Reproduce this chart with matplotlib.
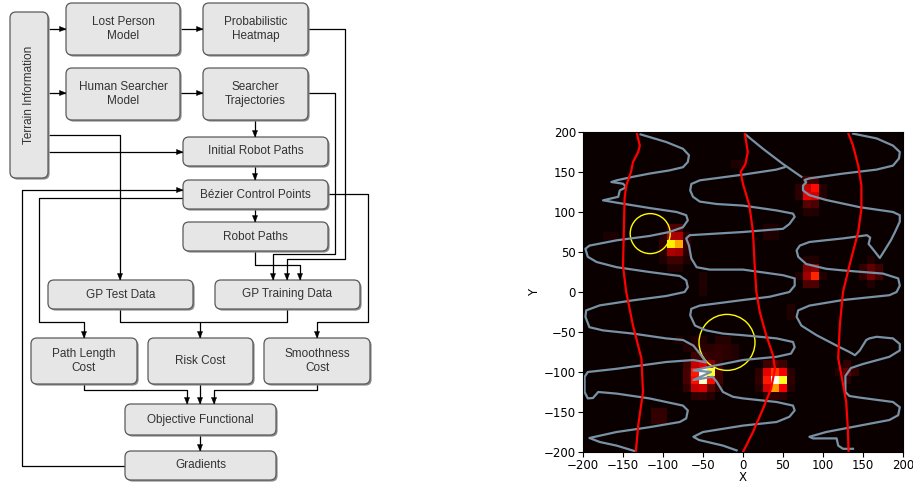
import numpy as np
import matplotlib
matplotlib.use("Agg")
import matplotlib.pyplot as plt
from matplotlib.patches import FancyBboxPatch, Polygon, Circle

# ---- flowchart content ----
box_labels = [
    "Terrain Information", "Lost Person\nModel", "Probabilistic\nHeatmap",
    "Human Searcher\nModel", "Searcher\nTrajectories", "Initial Robot Paths",
    "Bézier Control Points", "Robot Paths", "GP Test Data", "GP Training Data",
    "Path Length\nCost", "Risk Cost", "Smoothness\nCost",
    "Objective Functional", "Gradients",
]

# ---- heatmap content ----
grid_x = np.arange(-200, 201, 10)
grid_y = np.arange(-200, 201, 10)
background = 0.0
# (x centre, y centre, intensity)
hotspots = [
    (-90, 80, 0.10), (-80, 80, 0.10), (-90, 70, 0.24), (-80, 70, 0.24),
    (-90, 60, 0.72), (-80, 60, 0.62), (-90, 50, 0.24), (-80, 50, 0.22),
    (-90, 40, 0.08), (-80, 40, 0.08), (-100, 70, 0.04), (-100, 60, 0.055),
    (-100, 50, 0.04), (-70, 70, 0.05), (-70, 60, 0.06), (-70, 50, 0.05),
    (-100, 40, 0.03), (-70, 40, 0.03), (-90, 30, 0.035), (-80, 30, 0.035),
    (-60, -90, 0.28), (-50, -90, 0.33), (-40, -90, 0.18),
    (-60, -100, 0.40), (-50, -100, 1.00), (-40, -100, 0.80),
    (-60, -110, 0.38), (-50, -110, 0.95), (-40, -110, 0.38),
    (-60, -120, 0.28), (-50, -120, 0.30), (-40, -120, 0.12),
    (-70, -90, 0.08), (-70, -100, 0.09), (-70, -110, 0.09), (-70, -120, 0.06),
    (-30, -90, 0.06), (-30, -100, 0.08), (-30, -110, 0.08), (-30, -120, 0.05),
    (-60, -80, 0.08), (-50, -80, 0.08), (-40, -80, 0.06),
    (-60, -130, 0.055), (-50, -130, 0.06), (-40, -130, 0.04),
    (-40, -70, 0.05), (-30, -70, 0.06), (-20, -70, 0.05), (-30, -60, 0.04),
    (-20, -60, 0.04), (-10, -70, 0.035), (-20, -80, 0.05), (-10, -80, 0.035),
    (-30, -80, 0.06), (-70, -70, 0.035), (-60, -70, 0.04), (-60, -60, 0.035),
    (-50, -70, 0.05), (-50, -60, 0.035),
    (30, -90, 0.08), (40, -90, 0.10), (50, -90, 0.08),
    (30, -100, 0.33), (40, -100, 0.45), (50, -100, 0.35),
    (30, -110, 0.40), (40, -110, 1.00), (50, -110, 0.78),
    (30, -120, 0.30), (40, -120, 0.60), (50, -120, 0.35),
    (30, -130, 0.05), (40, -130, 0.06), (50, -130, 0.05),
    (20, -100, 0.05), (20, -110, 0.06), (20, -120, 0.04),
    (60, -100, 0.05), (60, -110, 0.055), (60, -120, 0.04),
    (80, 140, 0.08), (90, 140, 0.08), (80, 130, 0.28), (90, 130, 0.38),
    (80, 120, 0.33), (90, 120, 0.30), (80, 110, 0.12), (90, 110, 0.10),
    (80, 100, 0.04), (90, 100, 0.035), (70, 130, 0.05), (70, 120, 0.05),
    (100, 130, 0.04), (100, 120, 0.04),
    (80, 30, 0.18), (90, 30, 0.20), (80, 20, 0.22), (90, 20, 0.42),
    (80, 10, 0.10), (90, 10, 0.10), (70, 20, 0.035), (100, 20, 0.035),
    (80, 40, 0.035), (90, 40, 0.035),
    (150, 30, 0.06), (160, 30, 0.13), (170, 30, 0.08),
    (150, 20, 0.06), (160, 20, 0.15), (170, 20, 0.08),
    (160, 40, 0.035), (160, 10, 0.035),
    (130, -90, 0.06), (130, -100, 0.13), (140, -100, 0.06),
    (130, -110, 0.05), (120, -100, 0.04),
    (-110, -150, 0.06), (-100, -150, 0.06), (-110, -160, 0.06), (-100, -160, 0.06),
    (-160, 70, 0.03), (-170, 70, 0.025), (0, 160, 0.035), (-10, 160, 0.03),
    (30, 80, 0.035), (30, 70, 0.035), (40, 80, 0.03), (40, 70, 0.03),
    (60, -20, 0.035), (60, -30, 0.03), (-50, 10, 0.035), (-50, 20, 0.03),
    (-50, 0, 0.03), (-80, -60, 0.03),
]

# red robot paths (x, y)
red_paths = [
    [(-133, 200), (-129, 183), (-131, 175), (-137.5, 162.5), (-140, 150),
     (-146, 133), (-148, 117), (-149, 75), (-150, 33), (-146, 0),
     (-137.5, -42), (-127, -83), (-125, -125), (-131, -167), (-134, -200)],
    [(2, 200), (6, 175), (3, 160), (-3, 150), (0, 135), (8, 108), (12.5, 75),
     (14.6, 33), (16.7, 0), (21, -25), (29, -54), (37.5, -79), (40, -96),
     (35, -121), (25, -146), (12.5, -175), (0, -200)],
    [(131, 200), (137.5, 183), (144, 158), (148, 133), (148, 104), (144, 75),
     (133, 33), (125, 0), (121, -42), (119, -83), (123, -104), (129, -137.5),
     (131, -170), (132, -200)],
]

# searcher trajectories (x, y)
searcher_paths = [
    [(-128, 197), (-96, 187.5), (-75, 179), (-67.5, 171), (-69, 162.5),
     (-75, 156), (-92, 152), (-117, 148), (-137.5, 144), (-158, 139.6),
     (-164.6, 137.5), (-150, 135.4), (-146, 131), (-154, 127), (-156, 119),
     (-175, 114.6), (-158, 111.7), (-117, 105), (-83, 100), (-71, 96),
     (-69, 89.6), (-75, 81), (-92, 75), (-117, 70), (-158, 64.6), (-192, 58),
     (-197, 54), (-194, 44), (-183, 37.5), (-158, 31), (-117, 25), (-79, 20),
     (-71, 14.6), (-69, 6), (-73, 0), (-96, -5), (-137.5, -10.4),
     (-179, -16.7), (-196, -23), (-197, -31), (-192, -44), (-175, -48),
     (-137.5, -52), (-96, -58), (-75, -60), (-62, -67), (-54, -77),
     (-46, -88), (-62, -85), (-96, -87.5), (-158, -96), (-194, -100),
     (-198, -106), (-198, -125), (-194, -133), (-187.5, -132.5),
     (-181, -125), (-158, -127), (-117, -133), (-75, -142), (-69, -148),
     (-71, -158), (-79, -162.5), (-117, -169), (-158, -175), (-192, -182.5),
     (-179, -187.5), (-158, -192), (-135, -199)],
    [(3, 197), (25, 179), (50, 160), (73, 144)],
    [(52, 156), (41.7, 153), (0, 146.7), (-54, 139.6), (-64.6, 135),
     (-66, 127), (-62.5, 119), (-54, 113), (-33, 110), (0, 108), (41.7, 102),
     (62.5, 98), (64.6, 94), (58, 85), (50, 79), (25, 77), (0, 75),
     (-66.7, 71), (-71, 67), (-67.5, 58), (-64.6, 42), (-58, 31),
     (-41.7, 28), (0, 28), (50, 21), (64.6, 17), (64.6, 8), (58, 0),
     (33, -6), (0, -10), (-54, -17), (-64.6, -21), (-66, -29), (-60, -42),
     (-46, -48), (-25, -52), (0, -54), (42, -58), (62.5, -62.5),
     (64.6, -69), (60, -77), (42, -81), (0, -85), (-35, -92), (-62, -98),
     (-40, -100), (-62, -110), (-38, -106), (-33, -112), (-25, -125),
     (-12.5, -131), (0, -133), (42, -137.5), (62.5, -142), (64.6, -148),
     (58, -156), (42, -162.5), (0, -167), (-50, -175), (-62, -181),
     (-55, -185), (-25, -192), (-8, -198)],
    [(137.5, 198), (167, 192), (187.5, 183), (196, 175), (195, 167),
     (187.5, 158), (167, 153), (125, 148), (83, 142), (77, 140), (79, 137),
     (75, 133), (75, 127), (83, 121), (104, 115), (146, 106), (187.5, 100),
     (196, 96), (196, 88), (190, 75), (185, 65), (177, 52), (171, 42.5),
     (162, 54), (157, 60), (159, 68), (155, 71), (125, 67), (83, 62.5),
     (71, 58), (67, 52), (69, 44), (79, 35), (104, 29), (125, 27), (175, 23),
     (194, 17), (196, 8), (192, 0), (183, -4), (125, -10), (83, -17),
     (69, -23), (67, -31), (73, -42), (92, -54), (117, -67), (133, -75),
     (140, -79), (146, -73), (154, -60), (158, -58), (167, -56),
     (187.5, -58), (196, -65), (196, -73), (183, -81), (150, -90),
     (135, -95), (128, -105), (128, -125), (133, -130), (146, -132),
     (187.5, -137.5), (196, -144), (194, -154), (183, -160), (146, -167),
     (104, -175), (83, -181), (87.5, -183), (117, -183), (119, -192),
     (125, -196), (137.5, -196)],
]

# target circles: centre x, centre y, radius
circle_x = [-116, -20]
circle_y = [73, -63]
circle_r = [25, 35]

# ---- layout (pixel coordinates of the 913x484 canvas) ----
box_xywh = [
    (10, 12, 38, 166), (66, 3, 114, 52), (203, 3, 105, 52),
    (66, 68, 114, 52), (203, 68, 105, 52), (183, 137, 145, 29),
    (183, 180, 145, 29), (183, 222, 145, 29), (48, 280, 145, 29),
    (215, 280, 145, 29), (31, 338, 106, 46), (148, 338, 105, 46),
    (264, 338, 106, 46), (125, 404, 151, 31), (125, 451, 151, 29),
]
# polylines; True means the last point carries an arrow head
connections = [
    ([(49, 29), (66, 29)], True),
    ([(181, 29), (203, 29)], True),
    ([(49, 93), (66, 93)], True),
    ([(180, 93), (203, 93)], True),
    ([(308, 29), (345, 29), (345, 259), (287, 259), (287, 280)], True),
    ([(308, 93), (335, 93), (335, 254), (273, 254), (273, 280)], True),
    ([(255, 251), (255, 265), (300, 265), (300, 280)], True),
    ([(255, 120), (255, 137)], True),
    ([(49, 152), (183, 152)], True),
    ([(49, 135), (120, 135), (120, 280)], True),
    ([(255, 166), (255, 180)], True),
    ([(255, 209), (255, 222)], True),
    ([(125, 466), (22, 466), (22, 190), (183, 190)], True),
    ([(183, 198), (39, 198), (39, 322), (84, 322), (84, 338)], True),
    ([(328, 194), (368, 194), (368, 322), (317, 322), (317, 338)], True),
    ([(120, 309), (120, 322), (287, 322), (287, 309)], False),
    ([(200, 322), (200, 338)], True),
    ([(84, 384), (84, 390), (187, 390), (187, 404)], True),
    ([(200, 384), (200, 404)], True),
    ([(317, 384), (317, 390), (214, 390), (214, 404)], True),
    ([(200, 435), (200, 451)], True),
]

W, H = 913, 484
fig = plt.figure(figsize=(W / 100, H / 100), dpi=100)

# flowchart on an axes in pixel units
ax0 = fig.add_axes([0, 0, 1, 1])
ax0.set_xlim(0, W)
ax0.set_ylim(H, 0)
ax0.axis("off")

for (x0, y0, w, h), label in zip(box_xywh, box_labels):
    shadow = FancyBboxPatch((x0 + 1.6, y0 + 1.6), w, h,
                            boxstyle="round,pad=0,rounding_size=6",
                            facecolor="#8c8c8c", edgecolor="none", zorder=2)
    box = FancyBboxPatch((x0, y0), w, h,
                         boxstyle="round,pad=0,rounding_size=6",
                         facecolor="#e6e6e6", edgecolor="#5a5a5a",
                         linewidth=0.9, zorder=3)
    ax0.add_patch(shadow)
    ax0.add_patch(box)
    rot = 90 if h > 2 * w else 0
    ax0.text(x0 + w / 2, y0 + h / 2, label, ha="center", va="center",
             rotation=rot, fontsize=8.5, color="#333333",
             family="Liberation Sans", linespacing=1.15, zorder=4)

for pts, has_arrow in connections:
    xs = [p[0] for p in pts]
    ys = [p[1] for p in pts]
    ax0.plot(xs, ys, color="black", lw=0.9, solid_capstyle="butt", zorder=1)
    if has_arrow:
        (xa, ya), (xb, yb) = pts[-2], pts[-1]
        d = np.array([xb - xa, yb - ya], dtype=float)
        d /= np.hypot(*d)
        n = np.array([-d[1], d[0]])
        tip = np.array([xb, yb])
        base = tip - d * 6.5
        tri = Polygon([tip, base + n * 2.6, base - n * 2.6], closed=True,
                      facecolor="black", edgecolor="black", lw=0.3, zorder=5)
        ax0.add_patch(tri)

# heatmap panel
ax = fig.add_axes([583 / W, (H - 452) / H, 320 / W, 320 / H])
grid = np.full((len(grid_y), len(grid_x)), background)
for hx, hy, hv in hotspots:
    grid[np.searchsorted(grid_y, hy), np.searchsorted(grid_x, hx)] = hv
ax.pcolormesh(grid_x, grid_y, grid, cmap="hot", vmin=0, vmax=1,
              shading="nearest")

for path in searcher_paths:
    ax.plot([p[0] for p in path], [p[1] for p in path],
            color="#7891a5", lw=1.6)
for path in red_paths:
    ax.plot([p[0] for p in path], [p[1] for p in path],
            color="#ff0000", lw=1.6)
for cx, cy, r in zip(circle_x, circle_y, circle_r):
    ax.add_patch(Circle((cx, cy), r, fill=False, edgecolor="#ffff00", lw=1.0))

ax.set_xlim(-200, 200)
ax.set_ylim(-200, 200)
ticks = np.arange(-200, 201, 50)
ax.set_xticks(ticks)
ax.set_yticks(ticks)
ax.tick_params(labelsize=8.5, length=3.5, pad=1.5)
ax.set_xlabel("X", fontsize=8.5, labelpad=-1)
ax.set_ylabel("Y", fontsize=8.5, labelpad=2)

fig.savefig("out.png", dpi=100)
